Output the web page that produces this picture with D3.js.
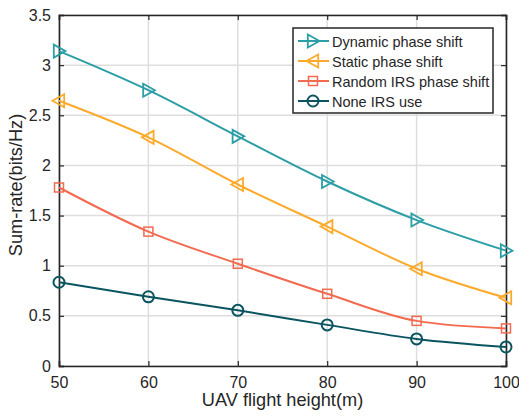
<!DOCTYPE html>
<html>
<head>
<meta charset="utf-8">
<script src="https://cdn.jsdelivr.net/npm/d3@7"></script>
<style>
  body { margin: 0; background: #fff; }
  text { font-family: "Liberation Sans", Arial, sans-serif; fill: #262626; }
</style>
</head>
<body>
<div id="chart"></div>
<script>
// 데이터
const heights = [50, 60, 70, 80, 90, 100];
const dynamicShift = [3.14, 2.75, 2.29, 1.84, 1.455, 1.15];
const staticShift = [2.645, 2.28, 1.81, 1.39, 0.97, 0.68];
const randomShift = [1.78, 1.34, 1.02, 0.72, 0.45, 0.375];
const noneIRS = [0.835, 0.69, 0.555, 0.41, 0.27, 0.19];
const yTicks = [0, 0.5, 1, 1.5, 2, 2.5, 3, 3.5];
const xTicks = [50, 60, 70, 80, 90, 100];

const series = [
  { name: 'Dynamic phase shift', values: dynamicShift, color: '#2b9ea6', marker: 'right' },
  { name: 'Static phase shift', values: staticShift, color: '#fbaa2b', marker: 'left' },
  { name: 'Random IRS phase shift', values: randomShift, color: '#f26b50', marker: 'square' },
  { name: 'None IRS use', values: noneIRS, color: '#0a5560', marker: 'circle' }
];

const width = 519, height = 418;
const margin = { left: 59, top: 15, right: 13, bottom: 52 };
const innerW = width - margin.left - margin.right;
const innerH = height - margin.top - margin.bottom;

const svg = d3.select('#chart').append('svg')
  .attr('width', width)
  .attr('height', height);

const g = svg.append('g').attr('transform', `translate(${margin.left},${margin.top})`);

const x = d3.scaleLinear().domain([50, 100]).range([0, innerW]);
const y = d3.scaleLinear().domain([0, 3.5]).range([innerH, 0]);

// 그리드
g.append('g').selectAll('line').data(xTicks).enter().append('line')
  .attr('x1', d => x(d)).attr('x2', d => x(d))
  .attr('y1', 0).attr('y2', innerH)
  .attr('stroke', '#dedede').attr('stroke-width', 1.5);
g.append('g').selectAll('line').data(yTicks).enter().append('line')
  .attr('x1', 0).attr('x2', innerW)
  .attr('y1', d => y(d)).attr('y2', d => y(d))
  .attr('stroke', '#dedede').attr('stroke-width', 1.5);

// 축
const axisColor = '#262626';
const bottomAxis = g.append('g').attr('transform', `translate(0,${innerH})`)
  .call(d3.axisBottom(x).tickValues(xTicks).tickSize(-5).tickPadding(11));
const leftAxis = g.append('g')
  .call(d3.axisLeft(y).tickValues(yTicks).tickSize(-5).tickPadding(8).tickFormat(d3.format('')));
const topAxis = g.append('g')
  .call(d3.axisTop(x).tickValues(xTicks).tickSize(-5).tickFormat(''));
const rightAxis = g.append('g').attr('transform', `translate(${innerW},0)`)
  .call(d3.axisRight(y).tickValues(yTicks).tickSize(-5).tickFormat(''));

[bottomAxis, leftAxis, topAxis, rightAxis].forEach(a => {
  a.select('.domain').attr('stroke', axisColor).attr('stroke-width', 1.6);
  a.selectAll('.tick line').attr('stroke', axisColor).attr('stroke-width', 1.2);
  a.selectAll('.tick text').style('font-size', '16px').attr('fill', axisColor);
});

// 라인
const line = d3.line()
  .x((d, i) => x(heights[i]))
  .y(d => y(d))
  .curve(d3.curveMonotoneX);

function drawMarker(sel, type, color) {
  if (type === 'circle') {
    sel.append('circle').attr('r', 5.5)
      .attr('fill', 'none').attr('stroke', color).attr('stroke-width', 2);
  } else if (type === 'square') {
    sel.append('rect').attr('x', -4.5).attr('y', -4.5).attr('width', 9).attr('height', 9)
      .attr('fill', 'none').attr('stroke', color).attr('stroke-width', 1.5);
  } else {
    const s = 6.5;
    const pts = type === 'right'
      ? [[s, 0], [-s * 0.8, -s], [-s * 0.8, s]]
      : [[-s, 0], [s * 0.8, -s], [s * 0.8, s]];
    sel.append('path').attr('d', 'M' + pts.map(p => p.join(',')).join('L') + 'Z')
      .attr('fill', 'none').attr('stroke', color).attr('stroke-width', 1.8);
  }
}

series.forEach(s => {
  g.append('path')
    .datum(s.values)
    .attr('d', line)
    .attr('fill', 'none')
    .attr('stroke', s.color)
    .attr('stroke-width', 2);

  g.append('g').selectAll('g').data(s.values).enter().append('g')
    .attr('transform', (d, i) => `translate(${x(heights[i])},${y(d)})`)
    .each(function () { drawMarker(d3.select(this), s.marker, s.color); });
});

// 범례
const legend = svg.append('g').attr('transform', 'translate(293,28)');
legend.append('rect')
  .attr('width', 200).attr('height', 85)
  .attr('fill', '#fff').attr('stroke', axisColor).attr('stroke-width', 1.5);
series.forEach((s, i) => {
  const row = legend.append('g').attr('transform', `translate(0,${13 + i * 20})`);
  row.append('line').attr('x1', 5).attr('x2', 36)
    .attr('stroke', s.color).attr('stroke-width', 2);
  const m = row.append('g').attr('transform', 'translate(20,0)');
  drawMarker(m, s.marker, s.color);
  row.append('text').attr('x', 39).attr('y', 5.5)
    .style('font-size', '14.5px').text(s.name);
});

// 축 제목
svg.append('text')
  .attr('x', 282.5).attr('y', 406)
  .attr('text-anchor', 'middle')
  .style('font-size', '18.2px')
  .text('UAV flight height(m)');
svg.append('text')
  .attr('transform', 'translate(22,185) rotate(-90)')
  .attr('text-anchor', 'middle')
  .style('font-size', '18.2px')
  .text('Sum-rate(bits/Hz)');
</script>
</body>
</html>
